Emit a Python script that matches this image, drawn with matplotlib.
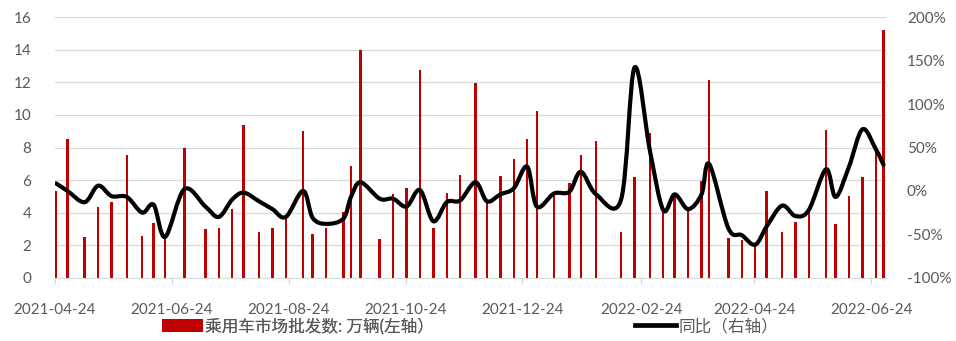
import numpy as np
import pandas as pd
import matplotlib
matplotlib.use('Agg')
import matplotlib.pyplot as plt
import matplotlib.dates as mdates
from matplotlib.path import Path
from matplotlib.patches import PathPatch, Patch
from matplotlib.lines import Line2D

plt.rcParams['font.family'] = ['Lato', 'Noto Sans CJK SC', 'DejaVu Sans']

dates = pd.to_datetime([
    '2021-04-24', '2021-04-30', '2021-05-09', '2021-05-16', '2021-05-23', '2021-05-31',
    '2021-06-08', '2021-06-14', '2021-06-20', '2021-06-30', '2021-07-11', '2021-07-18',
    '2021-07-25', '2021-07-31', '2021-08-08', '2021-08-15', '2021-08-22', '2021-08-31',
    '2021-09-05', '2021-09-12', '2021-09-21', '2021-09-25', '2021-09-30', '2021-10-10',
    '2021-10-17', '2021-10-24', '2021-10-31', '2021-11-07', '2021-11-14', '2021-11-21',
    '2021-11-29', '2021-12-05', '2021-12-12', '2021-12-19', '2021-12-26', '2021-12-31',
    '2022-01-09', '2022-01-17', '2022-01-23', '2022-01-31', '2022-02-13', '2022-02-20',
    '2022-02-28', '2022-03-07', '2022-03-13', '2022-03-20', '2022-03-27', '2022-03-31',
    '2022-04-10', '2022-04-17', '2022-04-24', '2022-04-30', '2022-05-08', '2022-05-15',
    '2022-05-22', '2022-05-31', '2022-06-05', '2022-06-12', '2022-06-19', '2022-06-26',
    '2022-06-30'])

wholesale = [5.33, 8.50, 2.48, 4.32, 4.63, 7.52, 2.54, 3.34, 2.50, 7.95, 2.97, 3.03,
             4.20, 9.36, 2.79, 3.03, 3.75, 9.00, 2.66, 3.03, 4.02, 6.86, 14.0, 2.38,
             5.14, 5.49, 12.75, 3.03, 5.18, 6.31, 11.97, 4.70, 6.25, 7.28, 8.52, 10.25,
             5.25, 5.82, 7.54, 8.40, 2.80, 6.18, 8.88, 4.16, 5.08, 4.15, 5.94, 12.15,
             2.43, 2.30, 2.05, 5.32, 2.80, 3.41, 4.10, 9.08, 3.30, 5.00, 6.17, 7.88,
             15.23]

yoy = [8.7, 0, -13, 6, -6, -7, -25, -16, -53, 2, -18, -30,
       -10, -2, -12, -21, -30, 0, -31, -38, -32, -7, 10, -9,
       -9, -18, 1, -35, -13, -11, 10, -12, -4, 3, 28, -18,
       -3, -1, 22, -4, -10, 142, 47, -22, -4, -21, -4, 31,
       -43, -51, -62, -41, -17, -29, -22, 25, -7, 28, 71, 48,
       30]

tick_dates = pd.to_datetime(['2021-04-24', '2021-06-24', '2021-08-24', '2021-10-24',
                             '2021-12-24', '2022-02-24', '2022-04-24', '2022-06-24'])

grey = '#595959'
grid = '#D9D9D9'

fig = plt.figure(figsize=(9.56, 3.41), dpi=100)
ax = fig.add_axes([55 / 956, 1 - 277.7 / 341, 831 / 956, 260.4 / 341])
ax2 = ax.twinx()

x = mdates.date2num(dates) + 0.5
ax.bar(x, wholesale, width=1.3, color='#C00000', zorder=2)

# smoothed line like Excel (Catmull-Rom as cubic Bezier)
y = np.array(yoy, dtype=float)
verts = [(x[0], y[0])]
codes = [Path.MOVETO]
n = len(x)
for i in range(n - 1):
    p0 = (x[max(i - 1, 0)], y[max(i - 1, 0)])
    p1 = (x[i], y[i])
    p2 = (x[i + 1], y[i + 1])
    p3 = (x[min(i + 2, n - 1)], y[min(i + 2, n - 1)])
    c1 = (p1[0] + (p2[0] - p0[0]) / 6, p1[1] + (p2[1] - p0[1]) / 6)
    c2 = (p2[0] - (p3[0] - p1[0]) / 6, p2[1] - (p3[1] - p1[1]) / 6)
    verts += [c1, c2, p2]
    codes += [Path.CURVE4] * 3
ax2.add_patch(PathPatch(Path(verts, codes), facecolor='none', edgecolor='black',
                        lw=3.0, capstyle='round', joinstyle='round', zorder=3))

x0 = mdates.date2num(pd.Timestamp('2021-04-24'))
ax.set_xlim(x0, x0 + 433.8)
ax.set_ylim(0, 16)
ax.set_yticks(range(0, 17, 2))
ax2.set_ylim(-100, 200)
ax2.set_yticks(range(-100, 201, 50))
ax2.set_yticklabels([f'{v}%' for v in range(-100, 201, 50)])

ax.set_xticks(mdates.date2num(tick_dates))
ax.set_xticklabels([d.strftime('%Y-%m-%d') for d in tick_dates])

ax.grid(axis='y', color=grid, lw=0.9, zorder=0)
ax.set_axisbelow(True)
for a in (ax, ax2):
    for s in ('top', 'left', 'right'):
        a.spines[s].set_visible(False)
    a.spines['bottom'].set_color(grid)
ax2.spines['bottom'].set_visible(False)

ax.tick_params(axis='x', colors=grid, length=4, width=0.9, pad=14, labelcolor=grey, labelsize=11)
ax.tick_params(axis='y', length=0, pad=17, labelcolor=grey, labelsize=11)
ax2.tick_params(axis='y', length=0, pad=15, labelcolor=grey, labelsize=11)

leg_kw = dict(loc='center left', frameon=False, borderpad=0, borderaxespad=0,
              handlelength=2.45, handleheight=0.85, handletextpad=0.15,
              labelcolor=grey, prop={'size': 12})
leg1 = fig.legend([Patch(facecolor='#C00000', edgecolor='none')],
                  ['乘用车市场批发数: 万辆(左轴）'],
                  bbox_to_anchor=(162 / 956, 15 / 341), **leg_kw)
fig.add_artist(leg1)
fig.legend([Line2D([], [], color='black', lw=3.4)], ['同比（右轴）'],
           bbox_to_anchor=(635 / 956, 15 / 341), **leg_kw)

fig.savefig('out.png', dpi=100)
